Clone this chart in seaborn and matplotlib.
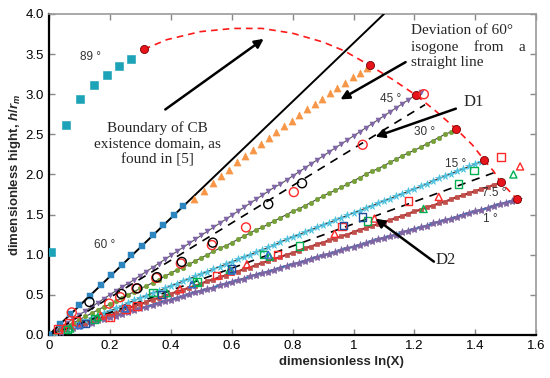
import matplotlib
matplotlib.use("Agg")
import matplotlib.pyplot as plt
import seaborn as sns


# x positions of the simulated isogone points (shared grid)
x_grid = [0.00, 0.02, 0.04, 0.06, 0.08, 0.10, 0.12, 0.14, 0.16, 0.18,
          0.20, 0.22, 0.24, 0.26, 0.28, 0.30, 0.32, 0.34, 0.36, 0.38,
          0.40, 0.42, 0.44, 0.46, 0.48, 0.50, 0.52, 0.54, 0.56, 0.58,
          0.60, 0.62, 0.64, 0.66, 0.68, 0.70, 0.72, 0.74, 0.76, 0.78,
          0.80, 0.82, 0.84, 0.86, 0.88, 0.90, 0.92, 0.94, 0.96, 0.98,
          1.00, 1.02, 1.04, 1.06, 1.08, 1.10, 1.12, 1.14, 1.16, 1.18,
          1.20, 1.22, 1.24, 1.26, 1.28, 1.30, 1.32, 1.34, 1.36, 1.38,
          1.40, 1.42, 1.44, 1.46, 1.48, 1.50, 1.52, 1.54]

y_45 = [0.00, 0.05, 0.10, 0.15, 0.20, 0.25, 0.30, 0.35, 0.40, 0.45,
        0.50, 0.55, 0.60, 0.64, 0.69, 0.74, 0.79, 0.84, 0.89, 0.94,
        0.99, 1.04, 1.09, 1.14, 1.19, 1.24, 1.29, 1.34, 1.39, 1.44,
        1.49, 1.54, 1.59, 1.64, 1.69, 1.74, 1.79, 1.84, 1.88, 1.93,
        1.98, 2.03, 2.08, 2.13, 2.18, 2.23, 2.28, 2.33, 2.38, 2.43,
        2.48, 2.53, 2.58, 2.63, 2.68, 2.73, 2.78, 2.83, 2.88, 2.93,
        2.98, 3.03]

y_30 = [0.00, 0.04, 0.08, 0.12, 0.15, 0.19, 0.23, 0.27, 0.31, 0.35,
        0.38, 0.42, 0.46, 0.50, 0.54, 0.58, 0.61, 0.65, 0.69, 0.73,
        0.77, 0.81, 0.84, 0.88, 0.92, 0.96, 1.00, 1.04, 1.08, 1.11,
        1.15, 1.19, 1.23, 1.27, 1.31, 1.34, 1.38, 1.42, 1.46, 1.50,
        1.54, 1.57, 1.61, 1.65, 1.69, 1.73, 1.77, 1.80, 1.84, 1.88,
        1.92, 1.96, 2.00, 2.04, 2.07, 2.11, 2.15, 2.19, 2.23, 2.27,
        2.30, 2.34, 2.38, 2.42, 2.46, 2.50, 2.53, 2.57]

y_15 = [0.00, 0.03, 0.06, 0.09, 0.12, 0.15, 0.18, 0.21, 0.24, 0.27,
        0.30, 0.33, 0.36, 0.40, 0.43, 0.46, 0.49, 0.52, 0.55, 0.58,
        0.61, 0.64, 0.67, 0.70, 0.73, 0.76, 0.79, 0.82, 0.85, 0.88,
        0.91, 0.94, 0.97, 1.00, 1.03, 1.06, 1.09, 1.12, 1.16, 1.19,
        1.22, 1.25, 1.28, 1.31, 1.34, 1.37, 1.40, 1.43, 1.46, 1.49,
        1.52, 1.55, 1.58, 1.61, 1.64, 1.67, 1.70, 1.73, 1.76, 1.79,
        1.82, 1.85, 1.88, 1.92, 1.95, 1.98, 2.01, 2.04, 2.07, 2.10,
        2.13, 2.16]

y_7 = [0.00, 0.03, 0.05, 0.08, 0.10, 0.13, 0.15, 0.18, 0.20, 0.23,
       0.26, 0.28, 0.31, 0.33, 0.36, 0.38, 0.41, 0.44, 0.46, 0.49,
       0.51, 0.54, 0.56, 0.59, 0.61, 0.64, 0.67, 0.69, 0.72, 0.74,
       0.77, 0.79, 0.82, 0.84, 0.87, 0.90, 0.92, 0.95, 0.97, 1.00,
       1.02, 1.05, 1.08, 1.10, 1.13, 1.15, 1.18, 1.20, 1.23, 1.25,
       1.28, 1.31, 1.33, 1.36, 1.38, 1.41, 1.43, 1.46, 1.48, 1.51,
       1.54, 1.56, 1.59, 1.61, 1.64, 1.66, 1.69, 1.72, 1.74, 1.77,
       1.79, 1.82, 1.84, 1.87, 1.89]

y_1 = [0.00, 0.02, 0.04, 0.07, 0.09, 0.11, 0.13, 0.15, 0.18, 0.20,
       0.22, 0.24, 0.26, 0.29, 0.31, 0.33, 0.35, 0.37, 0.40, 0.42,
       0.44, 0.46, 0.48, 0.51, 0.53, 0.55, 0.57, 0.59, 0.62, 0.64,
       0.66, 0.68, 0.70, 0.73, 0.75, 0.77, 0.79, 0.81, 0.84, 0.86,
       0.88, 0.90, 0.92, 0.95, 0.97, 0.99, 1.01, 1.03, 1.06, 1.08,
       1.10, 1.12, 1.14, 1.17, 1.19, 1.21, 1.23, 1.25, 1.28, 1.30,
       1.32, 1.34, 1.36, 1.39, 1.41, 1.43, 1.45, 1.47, 1.50, 1.52,
       1.54, 1.56, 1.58, 1.61, 1.63, 1.65, 1.67, 1.69]

# 60 deg isogone: straight line and its points
line60_x = [0.0, 1.10]
line60_y = [0.0, 4.0]
sq60_x = [0.00, 0.035, 0.07, 0.10, 0.135, 0.17, 0.205, 0.24, 0.27, 0.305, 0.34, 0.375, 0.41, 0.44]
sq60_y = [0.00, 0.13, 0.26, 0.37, 0.49, 0.62, 0.75, 0.87, 0.99, 1.11, 1.24, 1.37, 1.49, 1.61]

# 89 deg points
sq89_x = [0.007, 0.057, 0.103, 0.148, 0.19, 0.23, 0.27]
sq89_y = [1.03, 2.62, 2.94, 3.11, 3.24, 3.35, 3.44]

# deviation of the 60 deg isogone
tri60_x = [0.477, 0.508, 0.537, 0.565, 0.592, 0.619, 0.645, 0.671, 0.697, 0.722, 0.747, 0.772,
           0.797, 0.822, 0.847, 0.872, 0.897, 0.922, 0.947, 0.972, 0.997, 1.022, 1.045]
tri60_y = [1.70, 1.79, 1.89, 1.98, 2.06, 2.15, 2.23, 2.31, 2.38, 2.46, 2.53, 2.60,
           2.67, 2.74, 2.81, 2.88, 2.94, 3.01, 3.08, 3.14, 3.21, 3.27, 3.33]

# boundary of CB existence domain
bound_x = [0.312, 0.387, 0.497, 0.605, 0.70, 0.80, 0.90, 0.97, 1.053, 1.13, 1.206,
           1.27, 1.336, 1.39, 1.43, 1.46, 1.484, 1.51, 1.537]
bound_y = [3.56, 3.68, 3.78, 3.82, 3.82, 3.76, 3.65, 3.54, 3.36, 3.18, 2.985,
           2.79, 2.57, 2.37, 2.175, 2.04, 1.90, 1.80, 1.69]
end_x = [0.312, 1.053, 1.206, 1.336, 1.43, 1.484, 1.537]
end_y = [3.56, 3.36, 2.985, 2.57, 2.175, 1.90, 1.69]

# D1 / D2 fitted lines
d1_x = [0.0, 1.235]
d1_y = [0.0, 2.87]
d2_x = [0.0, 1.467]
d2_y = [0.0, 2.03]

# experimental points
red_circ_x = [0.075, 0.198, 0.234, 0.287, 0.352, 0.433, 0.535, 0.647, 0.804, 1.03, 1.231]
red_circ_y = [0.28, 0.39, 0.47, 0.58, 0.71, 0.89, 1.12, 1.34, 1.78, 2.37, 3.00]
blk_circ_x = [0.133, 0.238, 0.29, 0.355, 0.436, 0.538, 0.72, 0.831]
blk_circ_y = [0.41, 0.51, 0.58, 0.72, 0.91, 1.15, 1.63, 1.89]
red_sq_x = [0.03, 0.064, 0.09, 0.20, 0.253, 0.29, 0.55, 0.75, 0.963, 1.18, 1.484]
red_sq_y = [0.07, 0.15, 0.17, 0.215, 0.32, 0.36, 0.74, 1.00, 1.35, 1.67, 2.22]
red_tri_x = [0.05, 0.17, 0.43, 0.595, 0.65, 0.938, 1.069, 1.28, 1.547]
red_tri_y = [0.09, 0.24, 0.57, 0.79, 0.88, 1.26, 1.45, 1.72, 2.10]
grn_tri_x = [0.07, 0.16, 0.387, 0.485, 0.593, 0.725, 1.23, 1.525]
grn_tri_y = [0.08, 0.22, 0.52, 0.66, 0.81, 0.975, 1.57, 2.00]
grn_sq_x = [0.06, 0.15, 0.342, 0.486, 0.705, 0.822, 1.045, 1.344, 1.396]
grn_sq_y = [0.07, 0.20, 0.53, 0.66, 1.00, 1.11, 1.42, 1.88, 2.05]
blu_sq_x = [0.12, 0.37, 0.60, 0.967, 1.03]
blu_sq_y = [0.14, 0.50, 0.83, 1.36, 1.47]
blu_tri_x = [0.10, 0.25, 0.47, 0.60, 0.72]
blu_tri_y = [0.12, 0.33, 0.63, 0.80, 1.00]

x_ticks = [0.0, 0.2, 0.4, 0.6, 0.8, 1.0, 1.2, 1.4, 1.6]
x_labels = ["0", "0.2", "0.4", "0.6", "0.8", "1", "1.2", "1.4", "1.6"]
y_ticks = [0.0, 0.5, 1.0, 1.5, 2.0, 2.5, 3.0, 3.5, 4.0]
y_labels = ["0.0", "0.5", "1.0", "1.5", "2.0", "2.5", "3.0", "3.5", "4.0"]

sns.set_style("ticks")
plt.rcParams["font.family"] = ["Liberation Sans", "DejaVu Sans"]
plt.rcParams["mathtext.fontset"] = "custom"
plt.rcParams["mathtext.it"] = "Liberation Sans:italic:bold"
plt.rcParams["mathtext.rm"] = "Liberation Sans:bold"
serif = ["Liberation Serif", "DejaVu Serif"]

fig = plt.figure(figsize=(5.5, 3.78), dpi=100)
ax = fig.add_axes([0.089, 0.114, 0.886, 0.849])


def iso_line(y, line_color, marker, mcolor, ms, lw=0.8):
    n = len(y)
    sns.lineplot(x=x_grid[:n], y=y, ax=ax, color=line_color, lw=lw, marker=marker,
                 markersize=ms, markerfacecolor=mcolor, markeredgecolor=mcolor,
                 markeredgewidth=0.5, errorbar=None, sort=False, zorder=3)


# isogones
iso_line(y_1, "#2E75B6", "*", "#8064A2", 6, lw=1.6)
iso_line(y_7, "#A52A2A", "s", "#C0504D", 3.2, lw=1.6)
iso_line(y_15, "#333333", "*", "#4FC3E0", 5.5)
iso_line(y_30, "#444444", "o", "#77A03A", 3.2)
iso_line(y_45, "#555555", "v", "#7F64A8", 3.5)

sns.lineplot(x=line60_x, y=line60_y, ax=ax, color="black", lw=1.4, errorbar=None, zorder=3)
sns.scatterplot(x=sq60_x, y=sq60_y, ax=ax, marker="s", s=16, color="#2E86C1",
                edgecolor="#2E86C1", zorder=4)
sns.scatterplot(x=sq89_x, y=sq89_y, ax=ax, marker="s", s=26, color="#1CA3B8",
                edgecolor="#1CA3B8", zorder=4)
sns.scatterplot(x=tri60_x, y=tri60_y, ax=ax, marker="^", s=26, color="#F79646",
                edgecolor="#F79646", zorder=4)

# fitted lines D1, D2
for lx, ly in [(d1_x, d1_y), (d2_x, d2_y)]:
    sns.lineplot(x=lx, y=ly, ax=ax, color="black", lw=1.2, dashes=False,
                 linestyle=(0, (5, 4)), errorbar=None, zorder=3)

# boundary curve
sns.lineplot(x=bound_x, y=bound_y, ax=ax, color="#FF1A1A", lw=1.2, linestyle=(0, (4, 3)),
             errorbar=None, sort=False, zorder=4)
sns.scatterplot(x=end_x, y=end_y, ax=ax, s=34, color="#E8141C", edgecolor="#7A0000",
                linewidth=0.6, zorder=5)

# experiments (open markers)
open_sets = [
    (red_circ_x, red_circ_y, "o", "#FF2A2A", 42),
    (blk_circ_x, blk_circ_y, "o", "black", 42),
    (red_sq_x, red_sq_y, "s", "#FF2A2A", 30),
    (red_tri_x, red_tri_y, "^", "#FF2A2A", 26),
    (grn_tri_x, grn_tri_y, "^", "#00B050", 26),
    (grn_sq_x, grn_sq_y, "s", "#00B050", 28),
    (blu_sq_x, blu_sq_y, "s", "#1F4E9A", 28),
    (blu_tri_x, blu_tri_y, "^", "#2F6FD0", 24),
]
for sx, sy, mk, col, sz in open_sets:
    sns.scatterplot(x=sx, y=sy, ax=ax, marker=mk, s=sz, facecolor="none",
                    edgecolor=col, linewidth=1.0, zorder=6)

# angle labels
angle_txt = [("89 °", 0.135, 3.46), ("60 °", 0.182, 1.12), ("45 °", 1.122, 2.94),
             ("30 °", 1.234, 2.53), ("15 °", 1.336, 2.13), ("7.5 °", 1.462, 1.765),
             ("1 °", 1.45, 1.45)]
for t, tx, ty in angle_txt:
    ax.text(tx, ty, t, fontsize=8.5, color="#333333", ha="center", va="center", zorder=7)

# annotations
arrow = dict(arrowstyle="-|>", color="black", lw=1.8, mutation_scale=13, shrinkA=0, shrinkB=0)
ax.annotate("", xy=(0.705, 3.69), xytext=(0.382, 2.81), arrowprops=arrow, zorder=7)
ax.text(0.355, 2.38, "Boundary of CB\nexistence domain, as\nfound in [5]", family=serif,
        fontsize=11, ha="center", va="center", linespacing=1.25, zorder=7)
ax.annotate("", xy=(0.957, 2.935), xytext=(1.171, 3.40), arrowprops=arrow, zorder=7)
ax.text(1.19, 3.59, "Deviation of 60°\nisogone    from    a\nstraight line", family=serif,
        fontsize=11, ha="left", va="center", linespacing=1.25, zorder=7)
ax.annotate("", xy=(1.072, 2.47), xytext=(1.336, 2.82), arrowprops=arrow, zorder=7)
ax.text(1.362, 2.905, "D1", family=serif, fontsize=12, ha="left", va="center", zorder=7)
ax.annotate("", xy=(1.072, 1.45), xytext=(1.264, 0.913), arrowprops=arrow, zorder=7)
ax.text(1.27, 0.93, "D2", family=serif, fontsize=12, ha="left", va="center", zorder=7)

ax.set_xlim(0, 1.6)
ax.set_ylim(0, 4.0)
ax.set_xticks(x_ticks)
ax.set_xticklabels(x_labels)
ax.set_yticks(y_ticks)
ax.set_yticklabels(y_labels)
ax.tick_params(direction="in", top=True, right=True, length=4, width=1, labelsize=9.5,
               colors="#888888", labelcolor="black")
ax.set_xlabel("dimensionless ln(X)", fontsize=9.5, fontweight="bold", labelpad=1)
ax.set_ylabel(r"dimensionless hight, $h/r_m$", fontsize=9.5, fontweight="bold", labelpad=2)
ax.xaxis.set_label_coords(0.6, -0.065)

for side in ["left", "bottom"]:
    ax.spines[side].set_color("black")
    ax.spines[side].set_linewidth(1.6)
for side in ["top", "right"]:
    ax.spines[side].set_visible(True)
    ax.spines[side].set_color("#999999")
    ax.spines[side].set_linewidth(1.2)

fig.savefig("out.png", dpi=100)
